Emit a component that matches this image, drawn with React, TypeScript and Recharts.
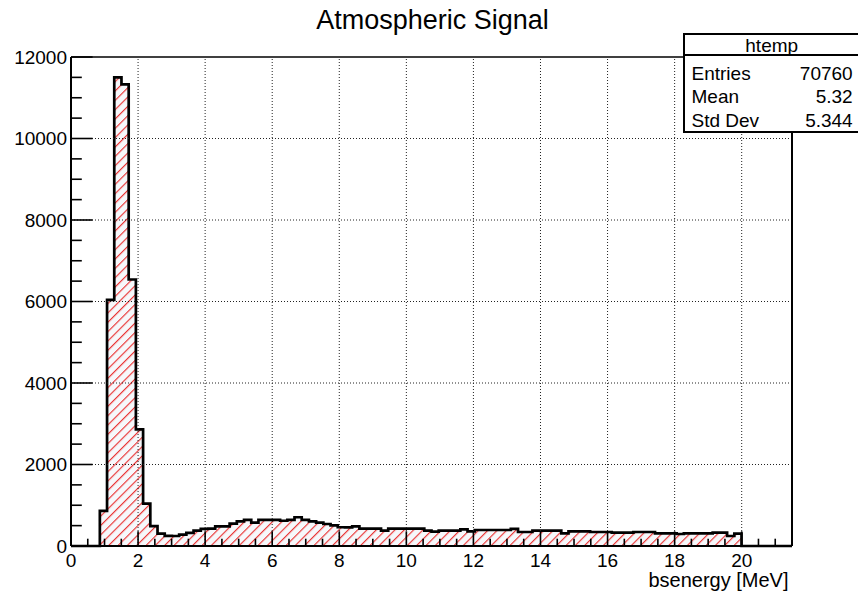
import React from "react";
import { ComposedChart, Area, XAxis, YAxis, ReferenceLine } from "recharts";

// ---- data ----
const BIN_WIDTH = 0.215; // 100 bins over [0, 21.5]
const X_MAX = 21.5;
const Y_MAX = 12000;

const COUNTS: number[] = [
  0, 0, 0, 0, 860, 6040, 11500, 11330, 6540, 2860,
  1040, 490, 303, 250, 246, 279, 320, 377, 420, 426,
  480, 484, 550, 606, 640, 575, 640, 640, 640, 620,
  640, 705, 640, 606, 574, 540, 508, 460, 459, 480,
  426, 426, 426, 377, 426, 426, 426, 426, 426, 377,
  352, 377, 377, 377, 410, 360, 393, 393, 393, 393,
  393, 418, 344, 344, 377, 377, 377, 377, 311, 360,
  360, 360, 344, 344, 344, 328, 328, 328, 344, 344,
  344, 311, 311, 311, 295, 311, 311, 311, 311, 328,
  328, 246, 303, 0, 0, 0, 0, 0, 0, 0,
];

const MAJOR_X = [0, 2, 4, 6, 8, 10, 12, 14, 16, 18, 20];
const MAJOR_Y = [0, 2000, 4000, 6000, 8000, 10000, 12000];
const GRID_X = [2, 4, 6, 8, 10, 12, 14, 16, 18, 20];
const GRID_Y = [2000, 4000, 6000, 8000, 10000];

const TITLE = "Atmospheric Signal";
const X_LABEL = "bsenergy [MeV]";
const STATS_NAME = "htemp";
const STATS_LABELS = ["Entries", "Mean", "Std Dev"];
const STATS_VALUES = ["70760", "5.32", "5.344"];

// ---- derived tables ----
const histData = COUNTS.map((c, i) => ({ x: Math.round(i * BIN_WIDTH * 1000) / 1000, count: c })).concat([
  { x: X_MAX, count: 0 },
]);

const X_TICKS: number[] = [];
for (let i = 0; i <= 42; i++) X_TICKS.push(i * 0.5);
const Y_TICKS: number[] = [];
for (let i = 0; i <= 24; i++) Y_TICKS.push(i * 500);

const FONT = "'Liberation Sans', Arial, Helvetica, sans-serif";

const W = 858;
const H = 592;
const M_TOP = 57;
const M_RIGHT = 66;
const Y_AXIS_W = 71;
const X_AXIS_H = 46;
const HATCH = 6.6;

function XTick(props: any) {
  const { x, y, payload } = props;
  const v = payload.value;
  const major = MAJOR_X.includes(v);
  return (
    <g>
      <line x1={x} x2={x} y1={y} y2={y - (major ? 14.7 : 7.3)} stroke="#000" strokeWidth={1.6} />
      {major && (
        <text x={x} y={y + 21} textAnchor="middle" fontSize={19} fontFamily={FONT} fill="#000">
          {v}
        </text>
      )}
    </g>
  );
}

function YTick(props: any) {
  const { x, y, payload } = props;
  const v = payload.value;
  const major = MAJOR_Y.includes(v);
  return (
    <g>
      <line x1={x} x2={x + (major ? 21.6 : 10.8)} y1={y} y2={y} stroke="#000" strokeWidth={1.6} />
      {major && (
        <text x={x - 4} y={y + 6.8} textAnchor="end" fontSize={19} fontFamily={FONT} fill="#000">
          {v}
        </text>
      )}
    </g>
  );
}

export default function App() {
  return (
    <div
      style={{
        position: "absolute",
        left: 0,
        top: 0,
        width: W,
        height: H,
        overflow: "hidden",
        background: "#fff",
      }}
    >
      <svg width={0} height={0} style={{ position: "absolute" }}>
        <defs>
          <pattern
            id="hatch"
            patternUnits="userSpaceOnUse"
            width={HATCH}
            height={HATCH}
            patternTransform="rotate(45)"
          >
            <rect x={0} y={0} width={HATCH} height={HATCH} fill="#f6f8fb" />
            <line x1={0.6} y1={0} x2={0.6} y2={HATCH} stroke="#ea2a2a" strokeWidth={1.1} />
          </pattern>
        </defs>
      </svg>
      <ComposedChart
        width={W}
        height={H}
        data={histData}
        margin={{ top: M_TOP, right: M_RIGHT, left: 0, bottom: 0 }}
      >
        {GRID_X.map((g) => (
          <ReferenceLine key={"gx" + g} x={g} stroke="#222" strokeWidth={1} strokeDasharray="1 2" />
        ))}
        {GRID_Y.map((g) => (
          <ReferenceLine key={"gy" + g} y={g} stroke="#222" strokeWidth={1} strokeDasharray="1 2" />
        ))}
        <XAxis
          dataKey="x"
          type="number"
          domain={[0, X_MAX]}
          ticks={X_TICKS}
          interval={0}
          tickSize={0}
          tickMargin={0}
          tickLine={false}
          height={X_AXIS_H}
          axisLine={{ stroke: "#000", strokeWidth: 2 }}
          tick={(p: any) => <XTick {...p} />}
        />
        <YAxis
          type="number"
          domain={[0, Y_MAX]}
          ticks={Y_TICKS}
          interval={0}
          tickSize={0}
          tickMargin={0}
          tickLine={false}
          width={Y_AXIS_W}
          axisLine={{ stroke: "#000", strokeWidth: 2 }}
          tick={(p: any) => <YTick {...p} />}
        />
        <Area
          dataKey="count"
          type="stepAfter"
          stroke="#000"
          strokeWidth={2.7}
          fill="url(#hatch)"
          fillOpacity={1}
          dot={false}
          activeDot={false}
          isAnimationActive={false}
        />
        <ReferenceLine y={Y_MAX} stroke="#000" strokeWidth={1.5} />
        <ReferenceLine x={X_MAX} stroke="#000" strokeWidth={2} />
      </ComposedChart>
      <svg
        width={W}
        height={H}
        style={{ position: "absolute", left: 0, top: 0, pointerEvents: "none" }}
      >
        <text x={432.5} y={29.3} textAnchor="middle" fontSize={27} fontFamily={FONT} fill="#000">
          {TITLE}
        </text>
        <text x={788.5} y={587} textAnchor="end" fontSize={20} fontFamily={FONT} fill="#000">
          {X_LABEL}
        </text>
        <rect x={684} y={34} width={180} height={98} fill="#fff" stroke="#000" strokeWidth={2} />
        <line x1={684} x2={860} y1={55} y2={55} stroke="#000" strokeWidth={2} />
        <text x={771.7} y={51.8} textAnchor="middle" fontSize={19} fontFamily={FONT} fill="#000">
          {STATS_NAME}
        </text>
        {STATS_LABELS.map((l, i) => (
          <text key={"sl" + l} x={691.5} y={80 + i * 23.4} fontSize={19} fontFamily={FONT} fill="#000">
            {l}
          </text>
        ))}
        {STATS_VALUES.map((v, i) => (
          <text
            key={"sv" + i}
            x={852.7}
            y={80 + i * 23.4}
            textAnchor="end"
            fontSize={19}
            fontFamily={FONT}
            fill="#000"
          >
            {v}
          </text>
        ))}
      </svg>
    </div>
  );
}
